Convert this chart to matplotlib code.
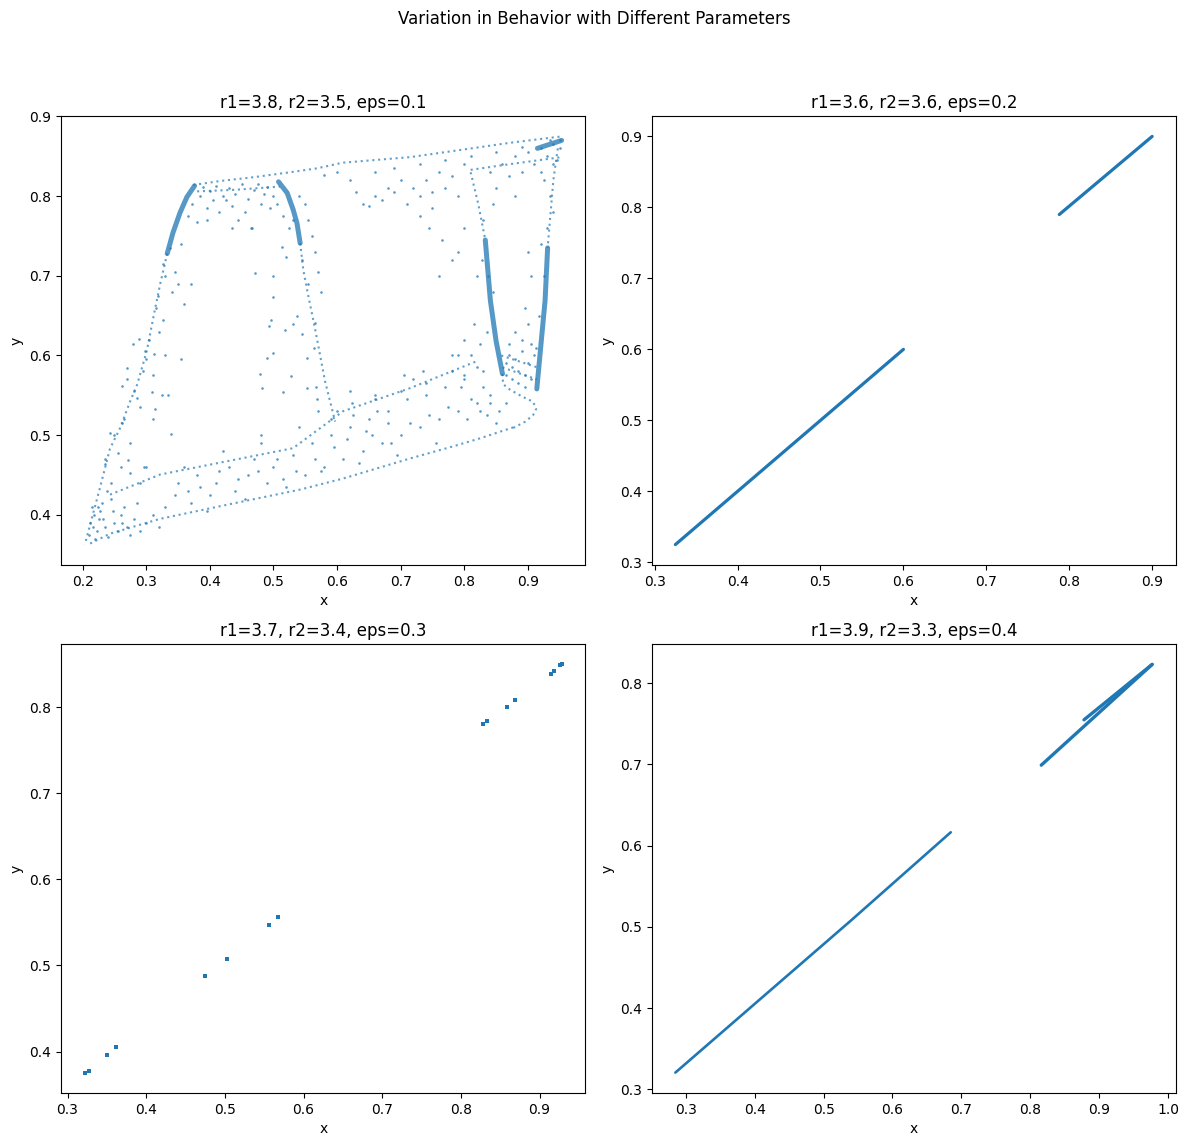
import matplotlib
matplotlib.use("Agg")
import matplotlib.pyplot as plt
import numpy as np

# ---- panel 1: r1=3.8, r2=3.5, eps=0.1 (points and bands) ----
# dense bands
left_arc_dense = [(0.376, 0.813), (0.364, 0.799), (0.353, 0.779), (0.342, 0.754), (0.333, 0.728)]
mid_arc_dense = [(0.508, 0.818), (0.5216, 0.804), (0.531, 0.783), (0.537, 0.766), (0.542, 0.741)]
left_strand = [(0.833, 0.745), (0.841, 0.669), (0.850, 0.618), (0.860, 0.577)]
right_strand = [(0.931, 0.735), (0.927, 0.669), (0.921, 0.618), (0.914, 0.558)]
top_right_blob = [(0.915, 0.860), (0.953, 0.870)]
# sparse bands
left_arc_sparse = [(0.333, 0.728), (0.322, 0.690), (0.311, 0.647), (0.301, 0.606), (0.286, 0.564),
                   (0.275, 0.543), (0.259, 0.509), (0.243, 0.483), (0.227, 0.433), (0.216, 0.400),
                   (0.2035, 0.3626)]
mid_arc_sparse = [(0.542, 0.741), (0.547, 0.707), (0.553, 0.682), (0.566, 0.631), (0.581, 0.568),
                  (0.597, 0.517)]
top_edge = [(0.374, 0.814), (0.416, 0.819), (0.471, 0.824), (0.526, 0.830), (0.569, 0.835),
            (0.609, 0.842), (0.715, 0.849), (0.794, 0.858), (0.872, 0.867), (0.953, 0.875)]
top_lip_band = [(0.380, 0.806), (0.440, 0.808), (0.510, 0.812)]
top_edge_lower = [(0.81, 0.833), (0.87, 0.840), (0.953, 0.849)]
left_strand_top = [(0.81, 0.83), (0.822, 0.79), (0.833, 0.745)]
right_strand_top = [(0.947, 0.860), (0.940, 0.820), (0.931, 0.735)]
bottom_hook = [(0.860, 0.577), (0.861, 0.564), (0.872, 0.557), (0.892, 0.548), (0.908, 0.542),
               (0.913, 0.533), (0.908, 0.525), (0.896, 0.517), (0.877, 0.509)]
bottom_edge = [(0.877, 0.5098), (0.8248, 0.4960), (0.7824, 0.4859), (0.7148, 0.4707),
               (0.6094, 0.4455), (0.5418, 0.4316), (0.427, 0.4126), (0.3217, 0.3949),
               (0.2431, 0.3763), (0.2085, 0.3626)]
bottom_upper = [(0.2431, 0.4253), (0.3217, 0.4505), (0.427, 0.4672), (0.5308, 0.4836),
                (0.6094, 0.530), (0.7148, 0.559), (0.8201, 0.593)]
hatch_a = [(0.858, 0.600), (0.915, 0.585)]
hatch_b = [(0.860, 0.585), (0.914, 0.570)]

dense_bands = [left_arc_dense, mid_arc_dense, left_strand, right_strand, top_right_blob]
sparse_bands = [left_arc_sparse, mid_arc_sparse, top_edge, top_lip_band, top_edge_lower,
                left_strand_top, right_strand_top, bottom_hook, bottom_edge, bottom_upper,
                hatch_a, hatch_b]

# scattered points
top_lip = [(0.39, 0.812), (0.40, 0.806), (0.41, 0.813), (0.42, 0.800), (0.43, 0.810), (0.44, 0.803),
           (0.45, 0.815), (0.46, 0.797), (0.47, 0.808), (0.48, 0.790), (0.49, 0.812), (0.50, 0.800),
           (0.405, 0.795), (0.435, 0.788), (0.455, 0.780), (0.475, 0.815), (0.415, 0.780),
           (0.495, 0.785), (0.385, 0.800), (0.445, 0.770), (0.465, 0.760), (0.38, 0.767),
           (0.396, 0.77), (0.435, 0.76), (0.467, 0.76), (0.471, 0.703), (0.50, 0.70), (0.50, 0.673),
           (0.513, 0.736), (0.52, 0.723), (0.425, 0.795), (0.485, 0.803), (0.395, 0.785),
           (0.505, 0.79), (0.515, 0.775), (0.525, 0.76), (0.365, 0.775), (0.372, 0.79)]
mid_cloud = [(0.55, 0.79), (0.555, 0.77), (0.56, 0.75), (0.545, 0.72), (0.565, 0.73), (0.57, 0.705),
             (0.555, 0.69), (0.575, 0.68), (0.54, 0.80), (0.53, 0.77), (0.479, 0.577), (0.482, 0.559),
             (0.49, 0.597), (0.50, 0.603), (0.515, 0.554), (0.528, 0.574), (0.518, 0.632),
             (0.531, 0.640), (0.537, 0.649), (0.493, 0.637), (0.496, 0.644), (0.545, 0.627),
             (0.553, 0.597), (0.553, 0.559), (0.566, 0.641), (0.563, 0.61), (0.481, 0.50)]
left_cloud = [(0.355, 0.74), (0.33, 0.70), (0.345, 0.705), (0.315, 0.66), (0.34, 0.68), (0.32, 0.63),
              (0.305, 0.62), (0.35, 0.69), (0.37, 0.69), (0.36, 0.665), (0.33, 0.60), (0.295, 0.58),
              (0.31, 0.575), (0.28, 0.555), (0.29, 0.535), (0.265, 0.52), (0.275, 0.49), (0.25, 0.50),
              (0.26, 0.46), (0.245, 0.44), (0.235, 0.47), (0.30, 0.46), (0.29, 0.44), (0.31, 0.52),
              (0.325, 0.55), (0.27, 0.57), (0.355, 0.595), (0.2615, 0.5153), (0.243, 0.503),
              (0.235, 0.464), (0.256, 0.477), (0.271, 0.469), (0.2745, 0.452), (0.2965, 0.4594),
              (0.339, 0.502), (0.334, 0.55), (0.314, 0.533), (0.309, 0.554), (0.27, 0.584),
              (0.262, 0.562), (0.2855, 0.546), (0.3123, 0.602), (0.298, 0.606), (0.279, 0.615),
              (0.2886, 0.621), (0.2997, 0.596), (0.327, 0.715), (0.338, 0.735), (0.318, 0.675),
              (0.326, 0.645)]
corner_cloud = [(0.212, 0.39), (0.218, 0.40), (0.222, 0.38), (0.215, 0.41), (0.225, 0.395),
                (0.23, 0.415), (0.21, 0.375), (0.22, 0.37), (0.235, 0.385), (0.228, 0.405),
                (0.24, 0.372), (0.25, 0.39), (0.26, 0.40), (0.255, 0.38), (0.27, 0.385),
                (0.265, 0.41), (0.28, 0.395), (0.275, 0.375), (0.29, 0.38), (0.30, 0.39),
                (0.285, 0.415), (0.31, 0.40), (0.32, 0.385), (0.245, 0.42), (0.238, 0.43),
                (0.216, 0.385), (0.224, 0.41), (0.232, 0.395), (0.248, 0.405), (0.262, 0.39)]
bottom_cloud = [(0.33, 0.41), (0.35, 0.44), (0.37, 0.415), (0.38, 0.45), (0.40, 0.425), (0.41, 0.44),
                (0.43, 0.46), (0.44, 0.43), (0.46, 0.45), (0.47, 0.47), (0.49, 0.44), (0.50, 0.46),
                (0.52, 0.435), (0.53, 0.475), (0.55, 0.45), (0.56, 0.49), (0.58, 0.46), (0.59, 0.50),
                (0.61, 0.47), (0.62, 0.51), (0.64, 0.48), (0.65, 0.52), (0.67, 0.49), (0.68, 0.53),
                (0.70, 0.50), (0.71, 0.545), (0.73, 0.51), (0.74, 0.55), (0.76, 0.52), (0.77, 0.56),
                (0.79, 0.53), (0.80, 0.57), (0.82, 0.54), (0.83, 0.58), (0.84, 0.55), (0.36, 0.46),
                (0.42, 0.48), (0.48, 0.49), (0.54, 0.51), (0.60, 0.53), (0.66, 0.55), (0.72, 0.57),
                (0.78, 0.60), (0.395, 0.405), (0.455, 0.42), (0.515, 0.445), (0.575, 0.455),
                (0.635, 0.465), (0.695, 0.475), (0.755, 0.49), (0.567, 0.56), (0.568, 0.545),
                (0.57, 0.53), (0.62, 0.555), (0.623, 0.54), (0.625, 0.525), (0.66, 0.545),
                (0.663, 0.53), (0.70, 0.555), (0.705, 0.575), (0.735, 0.58), (0.74, 0.565),
                (0.59, 0.52), (0.645, 0.505), (0.68, 0.515), (0.345, 0.425), (0.365, 0.43),
                (0.385, 0.435), (0.415, 0.455), (0.445, 0.445), (0.475, 0.455), (0.505, 0.47),
                (0.535, 0.455), (0.565, 0.47), (0.595, 0.485), (0.615, 0.495), (0.655, 0.50),
                (0.685, 0.49), (0.715, 0.515), (0.745, 0.525), (0.775, 0.535), (0.805, 0.52),
                (0.835, 0.525), (0.855, 0.53), (0.865, 0.54), (0.85, 0.515)]
right_cloud = [(0.80, 0.62), (0.81, 0.60), (0.815, 0.64), (0.82, 0.585), (0.825, 0.615), (0.83, 0.56),
               (0.835, 0.63), (0.80, 0.575), (0.79, 0.60), (0.84, 0.54), (0.795, 0.56), (0.81, 0.545),
               (0.825, 0.53), (0.78, 0.58), (0.865, 0.59), (0.875, 0.585), (0.885, 0.58),
               (0.895, 0.575), (0.905, 0.57), (0.87, 0.60), (0.88, 0.595), (0.89, 0.605),
               (0.90, 0.59), (0.91, 0.60), (0.865, 0.575), (0.875, 0.57), (0.885, 0.565),
               (0.895, 0.56), (0.87, 0.615), (0.89, 0.62), (0.905, 0.615), (0.88, 0.63),
               (0.90, 0.64), (0.895, 0.66), (0.838, 0.70), (0.845, 0.68), (0.828, 0.72),
               (0.925, 0.70), (0.918, 0.65), (0.912, 0.61)]
upper_right_cloud = [(0.64, 0.79), (0.65, 0.788), (0.66, 0.80), (0.67, 0.795), (0.68, 0.81),
                     (0.69, 0.805), (0.70, 0.82), (0.71, 0.79), (0.72, 0.81), (0.73, 0.80),
                     (0.74, 0.82), (0.75, 0.785), (0.76, 0.83), (0.77, 0.81), (0.78, 0.825),
                     (0.79, 0.80), (0.80, 0.84), (0.62, 0.82), (0.63, 0.805), (0.60, 0.83),
                     (0.58, 0.826), (0.73, 0.775), (0.745, 0.76), (0.765, 0.745), (0.78, 0.72),
                     (0.79, 0.73), (0.76, 0.70), (0.80, 0.76), (0.82, 0.70), (0.84, 0.83),
                     (0.86, 0.84), (0.88, 0.85), (0.90, 0.855), (0.92, 0.86), (0.94, 0.865),
                     (0.93, 0.85), (0.95, 0.86), (0.945, 0.845), (0.935, 0.87), (0.91, 0.84),
                     (0.89, 0.83), (0.87, 0.825), (0.95, 0.87), (0.94, 0.84), (0.925, 0.82),
                     (0.935, 0.80), (0.94, 0.78), (0.93, 0.76), (0.92, 0.74), (0.905, 0.70),
                     (0.90, 0.73), (0.83, 0.77), (0.845, 0.79), (0.69, 0.835), (0.73, 0.84),
                     (0.77, 0.845), (0.81, 0.85), (0.85, 0.855), (0.89, 0.862), (0.66, 0.83),
                     (0.75, 0.805), (0.85, 0.81), (0.88, 0.80), (0.92, 0.83)]
clouds = [top_lip, mid_cloud, left_cloud, corner_cloud, bottom_cloud, right_cloud, upper_right_cloud]

# ---- panel 2: r1=3.6, r2=3.6, eps=0.2 (synchronised, on the diagonal) ----
sync_low = [(0.325, 0.325), (0.600, 0.600)]
sync_high = [(0.788, 0.790), (0.900, 0.900)]

# ---- panel 3: r1=3.7, r2=3.4, eps=0.3 (periodic orbit) ----
orbit_x = [0.322, 0.3274, 0.3503, 0.3618, 0.4753, 0.5026, 0.5555, 0.567,
           0.8284, 0.8333, 0.858, 0.8686, 0.915, 0.918, 0.926, 0.928]
orbit_y = [0.3755, 0.3778, 0.3965, 0.4058, 0.4877, 0.5076, 0.5474, 0.5567,
           0.7813, 0.7848, 0.801, 0.809, 0.8386, 0.842, 0.849, 0.850]

# ---- panel 4: r1=3.9, r2=3.3, eps=0.4 ----
low_branch = [(0.2848, 0.3206), (0.54, 0.508), (0.6846, 0.6164)]
high_branch = [(0.816, 0.699), (0.977, 0.823)]
fold_branch = [(0.878, 0.7548), (0.977, 0.823)]

titles = ["r1=3.8, r2=3.5, eps=0.1", "r1=3.6, r2=3.6, eps=0.2",
          "r1=3.7, r2=3.4, eps=0.3", "r1=3.9, r2=3.3, eps=0.4"]

color = "tab:blue"

fig, axes = plt.subplots(2, 2, figsize=(11.88, 11.45), dpi=100)
fig.subplots_adjust(left=61 / 1188, right=1176 / 1188, top=1 - 116 / 1145,
                    bottom=1 - 1093 / 1145, wspace=0.126, hspace=0.176)
fig.suptitle("Variation in Behavior with Different Parameters", fontsize=12, y=0.991)

ax = axes[0, 0]
for band in dense_bands:
    bx, by = zip(*band)
    ax.plot(bx, by, color=color, lw=3.6, alpha=0.75, solid_capstyle="round")
for band in sparse_bands:
    bx, by = zip(*band)
    ax.plot(bx, by, color=color, lw=1.5, alpha=0.7, linestyle=(0, (1, 1.8)))
for cloud in clouds:
    cx, cy = zip(*cloud)
    ax.scatter(cx, cy, s=3.5, color=color, alpha=0.75, linewidths=0)

ax = axes[0, 1]
for seg in (sync_low, sync_high):
    sx, sy = zip(*seg)
    ax.plot(sx, sy, color=color, lw=2.3, solid_capstyle="round")

ax = axes[1, 0]
ax.scatter(orbit_x, orbit_y, s=5, marker="s", color=color, linewidths=0)

ax = axes[1, 1]
for seg, w in ((low_branch, 1.9), (high_branch, 2.4), (fold_branch, 2.4)):
    sx, sy = zip(*seg)
    ax.plot(sx, sy, color=color, lw=w, solid_capstyle="round")

for ax, t in zip(axes.flat, titles):
    ax.set_title(t, fontsize=12)
    ax.set_xlabel("x")
    ax.set_ylabel("y")

fig.savefig("out.png", dpi=100)
